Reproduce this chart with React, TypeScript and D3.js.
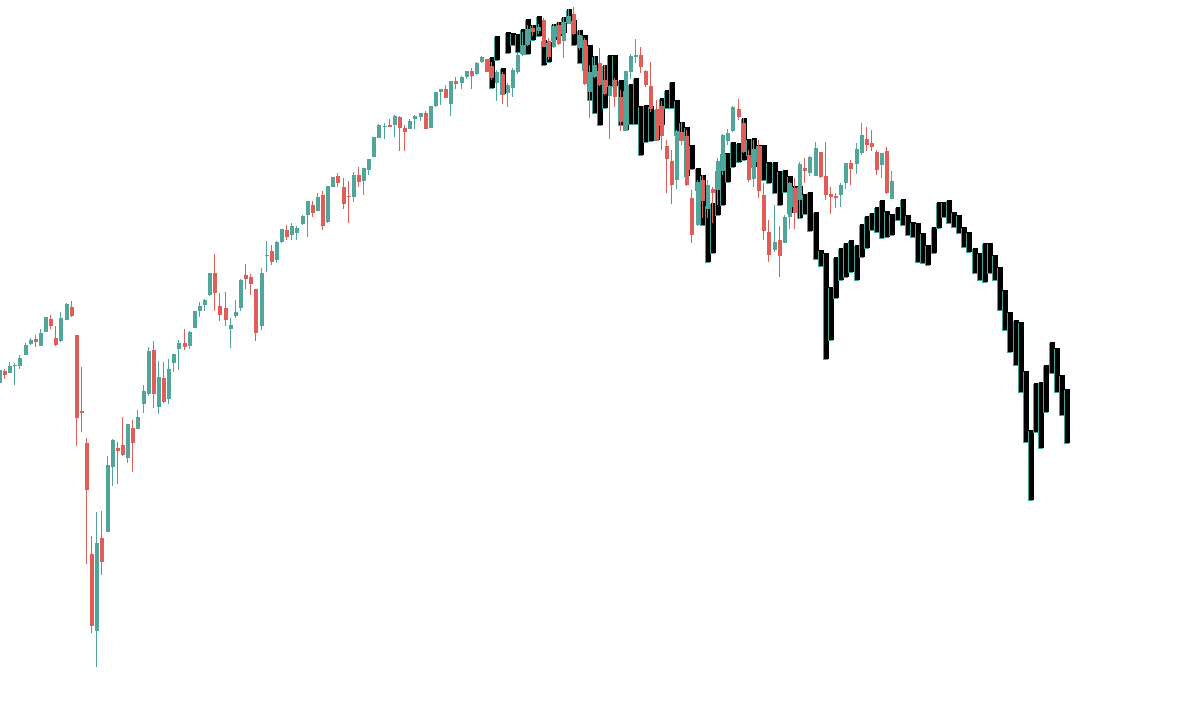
import React from "react";
import * as d3 from "d3";

const WIDTH = 1200;
const HEIGHT = 711;
const FIRST_WEEK = -1;
const ANALOG_FIRST_WEEK = 95;

const opens = [3323,3371,3363,3393,3391,3435,3479,3499,3471,3527,3579,3503,3491,3575,3627,3515,3211,3083,2639,2331,2703,2727,2987,3063,3075,3023,3143,3139,3239,3279,3455,3227,3343,3259,3403,3459,3483,3471,3543,3611,3635,3675,3763,3631,3623,3539,3591,3623,3755,3747,3699,3551,3831,3851,3815,3887,3935,3915,3923,3959,3995,4035,4011,4075,3967,4107,4151,4107,4071,4067,4155,4131,4175,4227,4303,4347,4355,4355,4387,4343,4339,4379,4387,4403,4343,4431,4487,4499,4439,4531,4523,4547,4571,4559,4607,4619,4591,4523,4559,4483,4503,4567,4635,4675,4743,4731,4775,4691,4667,4755,4691,4759,4799,4663,4695,4487,4547,4603,4535,4471,4535,4467,4335,4567,4627,4635,4571,4511,4419,4431,4271,4211,4135,4327,4311,4063,3955,4135,4019,4099,4095,4171,4291,4331,4419,4363,4231,4139,4271,4075,3927,3855,3895,3883,3987,4103,4055,4183,4163,4151,4247,4151,4079,4071,4075,4123,4203,4199,4243,4299,4283,4247,4195,4251,4059];
const highs = [3383,3379,3407,3403,3435,3483,3503,3515,3539,3587,3595,3551,3607,3643,3651,3515,3387,3103,2711,2807,2811,3031,3099,3087,3187,3159,3175,3215,3315,3467,3491,3411,3407,3419,3439,3495,3539,3531,3611,3647,3659,3763,3839,3683,3687,3583,3655,3739,3799,3759,3699,3783,3891,3875,3891,3939,3955,3963,3951,3995,4051,4051,4083,4091,4111,4147,4163,4143,4131,4167,4187,4183,4219,4307,4359,4363,4379,4395,4391,4355,4379,4395,4403,4411,4431,4487,4499,4515,4531,4547,4551,4571,4583,4607,4631,4619,4607,4575,4567,4523,4583,4643,4727,4755,4755,4759,4783,4703,4759,4767,4787,4819,4827,4735,4703,4595,4631,4663,4595,4515,4543,4495,4571,4639,4699,4667,4575,4607,4455,4451,4295,4255,4335,4367,4335,4095,4135,4155,4135,4107,4223,4319,4339,4431,4459,4383,4255,4295,4295,4123,3975,4035,3951,3995,4127,4143,4207,4223,4231,4287,4247,4287,4107,4083,4123,4203,4215,4283,4363,4347,4335,4255,4243,4267,4171];
const lows = [3315,3339,3363,3315,3379,3435,3475,3467,3471,3527,3539,3471,3487,3575,3587,3071,3127,2599,2323,2187,2555,2727,2911,2919,3031,3003,2967,3139,3203,3271,3223,3199,3243,3239,3367,3375,3455,3459,3543,3587,3611,3671,3611,3571,3551,3463,3583,3611,3699,3675,3491,3535,3767,3795,3803,3883,3895,3895,3895,3955,3907,3987,4011,3935,3963,4107,4107,4019,3963,4047,4107,4075,4155,4227,4303,4299,4347,4307,4251,4251,4339,4339,4371,4339,4343,4427,4435,4463,4391,4499,4499,4539,4499,4555,4603,4567,4535,4451,4439,4427,4467,4559,4631,4671,4711,4719,4667,4615,4663,4675,4623,4759,4715,4655,4515,4383,4543,4511,4475,4299,4427,4331,4335,4539,4603,4563,4507,4407,4291,4255,4083,4039,4099,4275,4111,3883,3951,3983,3983,3963,4035,4155,4275,4327,4375,4243,4127,4107,4063,3895,3807,3847,3747,3883,3939,3939,3983,4123,4151,4151,4143,4055,3999,4023,4027,4099,4115,4159,4235,4251,4251,4155,4143,4079,4059];
const closes = [3375,3355,3391,3397,3423,3475,3495,3487,3523,3587,3551,3475,3583,3639,3591,3183,3203,2895,2351,2683,2607,2995,3095,3051,3035,3159,3083,3187,3291,3451,3279,3347,3247,3379,3439,3483,3467,3527,3611,3631,3655,3763,3683,3595,3575,3555,3607,3735,3739,3719,3523,3763,3835,3807,3887,3939,3907,3951,3943,3991,4051,4003,4067,3951,4111,4147,4123,4039,4067,4155,4127,4183,4219,4307,4355,4351,4347,4391,4343,4327,4371,4391,4403,4339,4431,4487,4499,4463,4531,4519,4547,4571,4551,4603,4627,4567,4543,4567,4479,4515,4575,4635,4675,4739,4727,4747,4667,4627,4751,4679,4767,4791,4719,4715,4519,4567,4595,4515,4479,4511,4467,4367,4571,4631,4635,4587,4515,4419,4295,4311,4219,4115,4331,4291,4115,3915,4127,4051,4115,4083,4211,4315,4323,4427,4387,4247,4135,4259,4091,3931,3835,3887,3831,3987,4123,4003,4199,4171,4227,4263,4147,4075,4067,4063,4115,4203,4179,4259,4315,4275,4267,4175,4243,4083,4131];

const analogHigh = [4627,4711,4583,4727,4723,4719,4739,4779,4755,4791,4695,4687,4759,4767,4787,4819,4775,4735,4715,4675,4631,4575,4595,4635,4635,4535,4495,4519,4543,4431,4435,4431,4419,4463,4495,4527,4455,4367,4347,4275,4183,4155,4035,4043,4175,4243,4243,4287,4283,4383,4299,4303,4275,4275,4207,4207,4171,4175,4151,4111,4111,4079,4087,4007,3855,3843,3707,3827,3863,3883,3895,3875,3959,3991,4003,4027,4055,4011,3999,4027,4059,3995,3967,3963,3923,3875,3947,4047,4047,4055,4007,3995,3947,3927,3863,3843,3883,3883,3835,3787,3695,3607,3575,3567,3371,3135,3323,3327,3395,3487,3463,3355,3299];
const analogLow = [4503,4615,4479,4643,4675,4647,4643,4639,4695,4711,4595,4607,4695,4711,4723,4767,4675,4603,4575,4455,4403,4355,4423,4511,4511,4355,4335,4359,4359,4235,4287,4291,4295,4355,4423,4423,4315,4295,4151,4179,4095,3955,3807,3843,3995,4035,4127,4187,4207,4215,4235,4187,4211,4135,4123,4083,4035,4087,4003,4031,3983,3999,3931,3819,3791,3419,3495,3663,3735,3747,3767,3735,3827,3863,3935,3927,3903,3907,3915,3975,3955,3915,3907,3807,3803,3795,3843,3943,3987,3963,3947,3923,3867,3847,3763,3735,3727,3763,3735,3615,3535,3447,3395,3287,3087,2855,3127,3063,3207,3363,3287,3195,3083];

const UP = "#50a69a";
const DOWN = "#e05e58";
const ANALOG = "#000000";
const ANALOG_EDGE = "#3fa59a";

export default function App() {
  const weeks = opens.map((_, i) => FIRST_WEEK + i);
  const analogWeeks = analogHigh.map((_, i) => ANALOG_FIRST_WEEK + i);

  const x = d3.scaleLinear().domain([-1, 232]).range([-0.13, 1195.16]);
  const y = d3.scaleLinear().domain([2191, 4823]).range([666, 8]);
  const bodyW = 4;
  const analogW = 5;

  return (
    <svg
      width={WIDTH}
      height={HEIGHT}
      style={{ position: "absolute", left: 0, top: 0, background: "#ffffff" }}
      shapeRendering="crispEdges"
    >
      <rect x={0} y={0} width={WIDTH} height={HEIGHT} fill="#ffffff" />
      <g className="analog">
        {analogWeeks.map((w, i) => {
          const s = Math.round(x(w) - 2);
          const top = Math.round(y(analogHigh[i]));
          const bot = Math.round(y(analogLow[i]));
          const h = Math.max(1, bot - top);
          return (
            <g key={"a" + w}>
              <rect x={s - 1} y={top + 1} width={analogW} height={h} fill={ANALOG_EDGE} />
              <rect x={s} y={top} width={analogW} height={h} fill={ANALOG} />
            </g>
          );
        })}
      </g>
      <g className="candles">
        {weeks.map((w, i) => {
          const o = opens[i];
          const c = closes[i];
          const color = c >= o ? UP : DOWN;
          const s = Math.round(x(w) - 2);
          const top = Math.round(y(Math.max(o, c)));
          const bot = Math.round(y(Math.min(o, c)));
          const wx = Math.floor(x(w) - 0.5);
          const wt = Math.round(y(highs[i]));
          const wb = Math.round(y(lows[i]));
          return (
            <g key={"c" + w}>
              <rect x={wx} y={wt} width={1} height={Math.max(1, wb - wt)} fill={color} />
              <rect x={s} y={top} width={bodyW} height={Math.max(1, bot - top)} fill={color} />
            </g>
          );
        })}
      </g>
    </svg>
  );
}
